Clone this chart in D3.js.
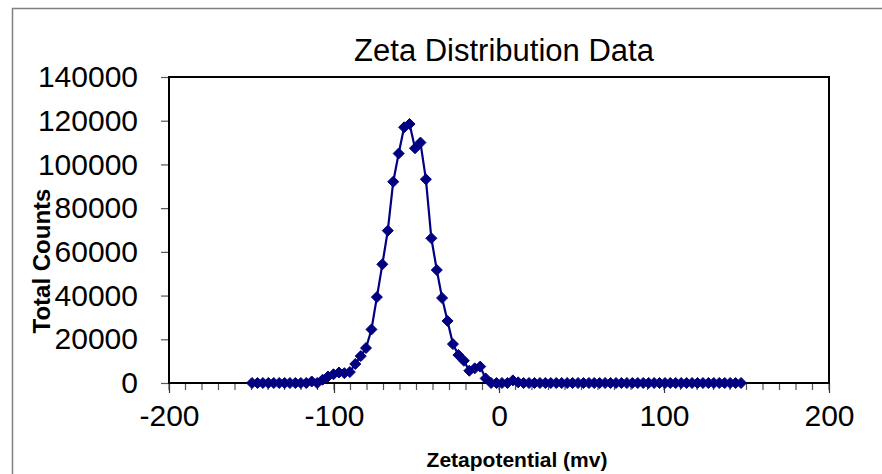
<!DOCTYPE html>
<html>
<head>
<meta charset="utf-8">
<script src="https://cdn.jsdelivr.net/npm/d3@7"></script>
<style>
  html, body { margin: 0; padding: 0; background: #fff; }
  svg { display: block; font-family: "Liberation Sans", Arial, sans-serif; }
</style>
</head>
<body>
<svg id="chart" width="882" height="474"></svg>
<script>
// ---- data ----
const zetaPotential = [
  -149.7, -146.4, -143.1, -139.8, -136.5, -133.2, -129.9, -126.7, -123.4, -120.1,
  -116.8, -113.5, -110.2, -106.9, -103.6, -100.3, -97.0, -93.7, -90.4, -87.1,
  -83.8, -80.6, -77.3, -74.0, -70.7, -67.4, -64.1, -60.8, -57.5, -54.2,
  -50.9, -47.6, -44.3, -41.0, -37.7, -34.5, -31.2, -27.9, -24.6, -21.3,
  -18.0, -14.7, -11.4, -8.1, -4.8, -1.5, 1.8, 5.1, 8.4, 11.6,
  14.9, 18.2, 21.5, 24.8, 28.1, 31.4, 34.7, 38.0, 41.3, 44.6,
  47.9, 51.2, 54.5, 57.7, 61.0, 64.3, 67.6, 70.9, 74.2, 77.5,
  80.8, 84.1, 87.4, 90.7, 94.0, 97.3, 100.6, 103.8, 107.1, 110.4,
  113.7, 117.0, 120.3, 123.6, 126.9, 130.2, 133.5, 136.8, 140.1, 143.4,
  146.7
];
const totalCounts = [
  0, 0, 0, 0, 0, 0, 0, 0, 0, 0,
  0, 700, 0, 1500, 3000, 4000, 4800, 4500, 5000, 8700,
  12300, 16000, 24500, 39300, 54300, 69700, 92100, 105000, 117000, 118500,
  107400, 110000, 93200, 66200, 51700, 38900, 28400, 17800, 12800, 10200,
  5600, 6700, 7500, 2100, 0, 0, 0, 0, 1200, 300,
  0, 0, 0, 0, 0, 0, 0, 0, 0, 0,
  0, 0, 0, 0, 0, 0, 0, 0, 0, 0,
  0, 0, 0, 0, 0, 0, 0, 0, 0, 0,
  0, 0, 0, 0, 0, 0, 0, 0, 0, 0,
  0
];
const xTicks = [-200, -100, 0, 100, 200];
const xTickLabels = ["-200", "-100", "0", "100", "200"];
const xMinorTicks = [-200, -190, -180, -170, -160, -150, -140, -130, -120, -110,
  -100, -90, -80, -70, -60, -50, -40, -30, -20, -10, 0, 10, 20, 30, 40, 50,
  60, 70, 80, 90, 100, 110, 120, 130, 140, 150, 160, 170, 180, 190, 200];
const yTicks = [0, 20000, 40000, 60000, 80000, 100000, 120000, 140000];
const yTickLabels = ["0", "20000", "40000", "60000", "80000", "100000", "120000", "140000"];
const chartTitle = "Zeta Distribution Data";
const xTitle = "Zetapotential (mv)";
const yTitle = "Total Counts";

// ---- layout ----
const svg = d3.select("#chart");
const plot = { left: 169, right: 829, top: 77, bottom: 383 };
const x = d3.scaleLinear().domain([-200, 200]).range([plot.left, plot.right]);
const y = d3.scaleLinear().domain([0, 140000]).range([plot.bottom, plot.top]);
const navy = "#000080";

// outer chart frame
svg.append("rect")
  .attr("x", 12.5).attr("y", 8.5)
  .attr("width", 900).attr("height", 500)
  .attr("fill", "#fff").attr("stroke", "#808080").attr("stroke-width", 1.5);

// title
svg.append("text")
  .attr("x", 504).attr("y", 61)
  .attr("text-anchor", "middle")
  .attr("font-size", 31)
  .text(chartTitle);

// minor x ticks
svg.append("g").selectAll("line").data(xMinorTicks).join("line")
  .attr("x1", d => x(d)).attr("x2", d => x(d))
  .attr("y1", plot.bottom).attr("y2", plot.bottom + 7)
  .attr("stroke", "#555").attr("stroke-width", 1.2);

// x axis (major)
const xAxis = d3.axisBottom(x).tickValues(xTicks).tickSize(10).tickPadding(12)
  .tickFormat((d, i) => xTickLabels[i]);
const gx = svg.append("g").attr("transform", `translate(0,${plot.bottom})`).call(xAxis);
gx.select(".domain").remove();
gx.selectAll(".tick line").attr("stroke", "#333").attr("stroke-width", 1.2);
gx.selectAll(".tick text")
  .attr("font-size", 30).attr("fill", "#000")
  .attr("font-family", "Liberation Sans, Arial, sans-serif");

// y axis
const yAxis = d3.axisLeft(y).tickValues(yTicks).tickSize(8).tickPadding(23)
  .tickFormat((d, i) => yTickLabels[i]);
const gy = svg.append("g").attr("transform", `translate(${plot.left},0)`).call(yAxis);
gy.select(".domain").remove();
gy.selectAll(".tick line").attr("stroke", "#555").attr("stroke-width", 1.2);
gy.selectAll(".tick text")
  .attr("font-size", 30).attr("fill", "#000")
  .attr("font-family", "Liberation Sans, Arial, sans-serif");

// plot area border
svg.append("rect")
  .attr("x", plot.left).attr("y", plot.top)
  .attr("width", plot.right - plot.left).attr("height", plot.bottom - plot.top)
  .attr("fill", "none").attr("stroke", "#000").attr("stroke-width", 2);

// series line
const pts = zetaPotential.map((v, i) => [v, totalCounts[i]]);
svg.append("path")
  .datum(pts)
  .attr("fill", "none").attr("stroke", navy).attr("stroke-width", 2.2)
  .attr("d", d3.line().x(d => x(d[0])).y(d => y(d[1])));

// markers
svg.append("g").selectAll("path").data(pts).join("path")
  .attr("transform", d => `translate(${x(d[0])},${y(d[1])})`)
  .attr("d", "M0,-5.5L5.5,0L0,5.5L-5.5,0Z")
  .attr("fill", navy).attr("stroke", navy).attr("stroke-width", 1);

// axis titles
svg.append("text")
  .attr("x", 517).attr("y", 467)
  .attr("text-anchor", "middle")
  .attr("font-size", 21).attr("font-weight", "bold")
  .text(xTitle);

svg.append("text")
  .attr("transform", "translate(50,261) rotate(-90)")
  .attr("text-anchor", "middle")
  .attr("font-size", 24).attr("font-weight", "bold")
  .text(yTitle);
</script>
</body>
</html>
